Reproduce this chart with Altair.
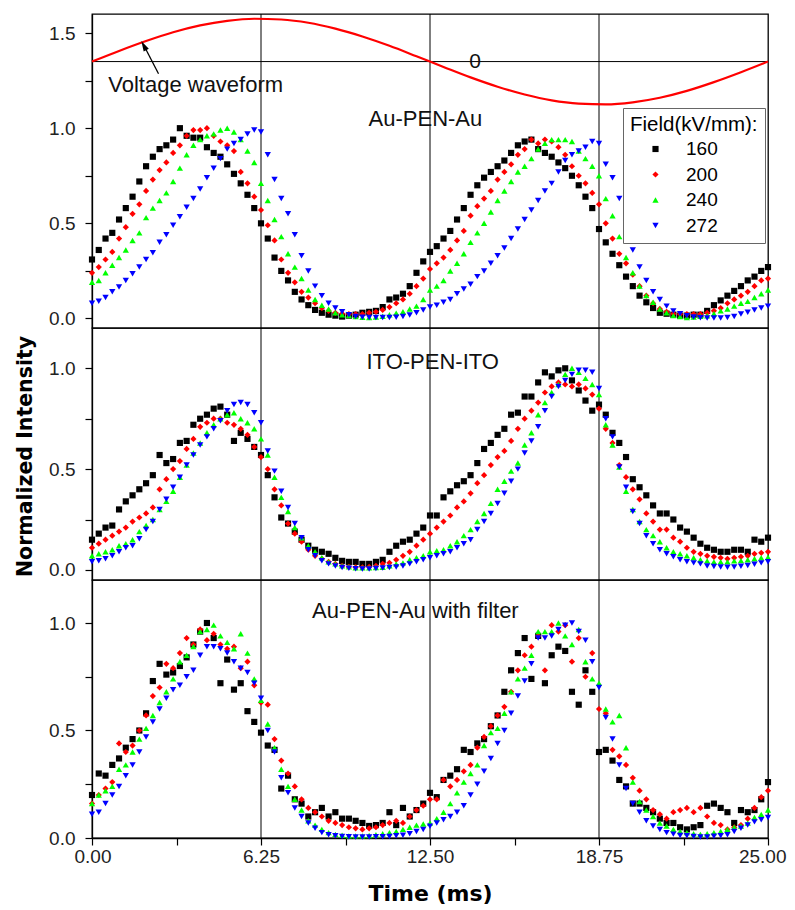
import altair as alt
import pandas as pd

FONT = "Liberation Sans"
TITLE_FONT = "DejaVu Sans"

# ---------------- categories / styles ----------------
fields = ["160", "200", "240", "272"]
field_colors = ["#000000", "#ff0000", "#00ff00", "#0000ff"]
field_shapes = ["square", "diamond", "triangle-up", "triangle-down"]
field_sizes = [38, 40, 72, 72]

time_step_ms = 0.25
time_ms = [round(i * time_step_ms, 2) for i in range(101)]

# ---------------- panel 1: Au-PEN-Au ----------------
au_160 = [
    0.31, 0.36, 0.42, 0.45, 0.52, 0.58, 0.64, 0.72, 0.80, 0.85, 0.89, 0.91,
    0.94, 1.00, 0.96, 0.95, 0.95, 0.90, 0.87, 0.85, 0.81, 0.76, 0.71, 0.65,
    0.58, 0.50, 0.42, 0.32, 0.25, 0.20, 0.14, 0.10, 0.07, 0.045, 0.03, 0.02,
    0.015, 0.01, 0.015, 0.02, 0.03, 0.035, 0.04, 0.06, 0.10, 0.11, 0.13, 0.17,
    0.24, 0.30, 0.35, 0.38, 0.42, 0.46, 0.52, 0.58, 0.65, 0.70, 0.74, 0.77,
    0.80, 0.83, 0.87, 0.91, 0.93, 0.94, 0.89, 0.87, 0.85, 0.82, 0.79, 0.75,
    0.70, 0.64, 0.58, 0.47, 0.40, 0.34, 0.28, 0.22, 0.17, 0.12, 0.085, 0.055,
    0.03, 0.025, 0.02, 0.015, 0.015, 0.02, 0.02, 0.04, 0.07, 0.095, 0.12, 0.145,
    0.17, 0.20, 0.22, 0.25, 0.27]
au_200 = [
    0.24, 0.27, 0.31, 0.35, 0.42, 0.48, 0.55, 0.60, 0.67, 0.73, 0.78, 0.82,
    0.87, 0.91, 0.96, 0.99, 0.99, 1.00, 0.96, 0.93, 0.91, 0.88, 0.77, 0.71,
    0.64, 0.57, 0.49, 0.41, 0.31, 0.24, 0.19, 0.14, 0.11, 0.08, 0.055, 0.04,
    0.03, 0.025, 0.023, 0.023, 0.023, 0.03, 0.035, 0.045, 0.06, 0.08, 0.10, 0.13,
    0.17, 0.21, 0.26, 0.29, 0.32, 0.36, 0.41, 0.46, 0.54, 0.59, 0.63, 0.67,
    0.73, 0.77, 0.81, 0.86, 0.89, 0.94, 0.92, 0.94, 0.93, 0.90, 0.86, 0.80,
    0.75, 0.71, 0.66, 0.60, 0.50, 0.42, 0.34, 0.29, 0.23, 0.17, 0.12, 0.08,
    0.05, 0.035, 0.025, 0.023, 0.023, 0.023, 0.023, 0.03, 0.04, 0.055, 0.08, 0.10,
    0.12, 0.14, 0.17, 0.20, 0.21]
au_240 = [
    0.19, 0.20, 0.24, 0.28, 0.32, 0.36, 0.41, 0.45, 0.53, 0.58, 0.62, 0.66,
    0.72, 0.79, 0.86, 0.91, 0.94, 0.96, 0.97, 0.99, 1.00, 0.98, 0.94, 0.88,
    0.82, 0.71, 0.62, 0.52, 0.43, 0.34, 0.27, 0.21, 0.15, 0.10, 0.07, 0.05,
    0.03, 0.02, 0.015, 0.01, 0.006, 0.005, 0.008, 0.012, 0.02, 0.028, 0.035, 0.05,
    0.065, 0.10, 0.15, 0.17, 0.20, 0.25, 0.29, 0.34, 0.40, 0.45, 0.50, 0.56,
    0.62, 0.67, 0.72, 0.77, 0.80, 0.84, 0.89, 0.92, 0.94, 0.94, 0.94, 0.93,
    0.88, 0.84, 0.80, 0.75, 0.63, 0.54, 0.43, 0.32, 0.24, 0.17, 0.12, 0.085,
    0.05, 0.03, 0.015, 0.01, 0.005, 0.008, 0.012, 0.014, 0.025, 0.04, 0.05, 0.065,
    0.08, 0.09, 0.11, 0.13, 0.15]
au_272 = [
    0.08, 0.09, 0.11, 0.14, 0.165, 0.20, 0.235, 0.27, 0.31, 0.345, 0.40, 0.44,
    0.49, 0.535, 0.585, 0.63, 0.68, 0.74, 0.79, 0.84, 0.89, 0.92, 0.94, 0.97,
    0.99, 0.98, 0.86, 0.73, 0.63, 0.55, 0.44, 0.33, 0.25, 0.17, 0.12, 0.08,
    0.055, 0.035, 0.02, 0.01, 0.006, 0.005, 0.005, 0.005, 0.005, 0.006, 0.01, 0.018,
    0.03, 0.045, 0.06, 0.07, 0.085, 0.10, 0.13, 0.155, 0.18, 0.22, 0.25, 0.29,
    0.33, 0.37, 0.42, 0.47, 0.52, 0.57, 0.62, 0.67, 0.71, 0.77, 0.83, 0.86,
    0.88, 0.90, 0.93, 0.92, 0.81, 0.74, 0.63, 0.50, 0.36, 0.27, 0.20, 0.14,
    0.10, 0.065, 0.04, 0.025, 0.014, 0.008, 0.004, 0.002, 0.002, 0.003, 0.005, 0.01,
    0.023, 0.033, 0.045, 0.055, 0.065]

# ---------------- panel 2: ITO-PEN-ITO ----------------
ito_160 = [
    0.15, 0.18, 0.21, 0.22, 0.30, 0.34, 0.37, 0.40, 0.43, 0.47, 0.57, 0.53,
    0.55, 0.63, 0.64, 0.72, 0.75, 0.77, 0.80, 0.81, 0.77, 0.64, 0.68, 0.65,
    0.61, 0.57, 0.47, 0.36, 0.26, 0.23, 0.19, 0.15, 0.12, 0.10, 0.09, 0.08,
    0.06, 0.045, 0.04, 0.04, 0.03, 0.03, 0.04, 0.05, 0.09, 0.12, 0.14, 0.15,
    0.18, 0.21, 0.27, 0.27, 0.36, 0.39, 0.42, 0.44, 0.47, 0.53, 0.60, 0.63,
    0.67, 0.70, 0.77, 0.78, 0.86, 0.86, 0.93, 0.98, 0.96, 0.99, 1.00, 0.94,
    0.89, 0.84, 0.79, 0.82, 0.77, 0.68, 0.63, 0.56, 0.45, 0.41, 0.37, 0.32,
    0.28, 0.28, 0.25, 0.21, 0.19, 0.16, 0.13, 0.11, 0.10, 0.09, 0.09, 0.10,
    0.10, 0.09, 0.15, 0.14, 0.16]
ito_200 = [
    0.11, 0.13, 0.15, 0.17, 0.19, 0.21, 0.24, 0.26, 0.28, 0.31, 0.40, 0.45,
    0.50, 0.54, 0.60, 0.65, 0.71, 0.73, 0.75, 0.75, 0.73, 0.72, 0.70, 0.67,
    0.61, 0.56, 0.50, 0.40, 0.32, 0.23, 0.18, 0.14, 0.10, 0.07, 0.055, 0.04,
    0.03, 0.02, 0.015, 0.013, 0.013, 0.015, 0.02, 0.03, 0.035, 0.05, 0.07, 0.09,
    0.12, 0.15, 0.18, 0.21, 0.24, 0.27, 0.31, 0.34, 0.38, 0.43, 0.47, 0.52,
    0.56, 0.59, 0.64, 0.70, 0.75, 0.79, 0.83, 0.88, 0.91, 0.93, 0.92, 0.91,
    0.92, 0.90, 0.87, 0.80, 0.70, 0.63, 0.52, 0.46, 0.40, 0.35, 0.28, 0.24,
    0.20, 0.20, 0.16, 0.14, 0.11, 0.09, 0.08, 0.07, 0.065, 0.06, 0.055, 0.06,
    0.065, 0.07, 0.08, 0.085, 0.09]
ito_240 = [
    0.07, 0.08, 0.09, 0.10, 0.12, 0.13, 0.15, 0.19, 0.22, 0.25, 0.30, 0.34,
    0.39, 0.46, 0.52, 0.58, 0.63, 0.68, 0.72, 0.75, 0.77, 0.78, 0.75, 0.73,
    0.70, 0.65, 0.57, 0.46, 0.36, 0.29, 0.21, 0.16, 0.12, 0.09, 0.06, 0.04,
    0.03, 0.02, 0.015, 0.01, 0.01, 0.01, 0.012, 0.013, 0.02, 0.03, 0.035, 0.05,
    0.06, 0.07, 0.09, 0.095, 0.10, 0.12, 0.14, 0.17, 0.20, 0.24, 0.28, 0.33,
    0.40, 0.44, 0.49, 0.53, 0.62, 0.68, 0.77, 0.83, 0.88, 0.92, 0.97, 1.00,
    0.98, 0.95, 0.92, 0.87, 0.72, 0.62, 0.51, 0.39, 0.30, 0.24, 0.20, 0.17,
    0.14, 0.11, 0.09, 0.08, 0.07, 0.06, 0.05, 0.045, 0.04, 0.04, 0.04, 0.045,
    0.046, 0.05, 0.055, 0.06, 0.063]
ito_272 = [
    0.04, 0.045, 0.055, 0.07, 0.09, 0.11, 0.12, 0.155, 0.20, 0.24, 0.30, 0.35,
    0.41, 0.46, 0.52, 0.57, 0.62, 0.66, 0.70, 0.74, 0.79, 0.82, 0.83, 0.82,
    0.78, 0.73, 0.59, 0.49, 0.39, 0.31, 0.23, 0.16, 0.10, 0.07, 0.045, 0.03,
    0.02, 0.012, 0.008, 0.006, 0.005, 0.005, 0.007, 0.01, 0.012, 0.015, 0.02, 0.03,
    0.04, 0.05, 0.06, 0.07, 0.08, 0.09, 0.11, 0.13, 0.15, 0.20, 0.24, 0.28,
    0.33, 0.38, 0.44, 0.50, 0.58, 0.64, 0.71, 0.79, 0.86, 0.91, 0.94, 0.97,
    0.99, 0.99, 0.98, 0.90, 0.75, 0.66, 0.51, 0.41, 0.29, 0.23, 0.17, 0.13,
    0.10, 0.08, 0.065, 0.05, 0.04, 0.035, 0.03, 0.02, 0.017, 0.015, 0.013, 0.015,
    0.018, 0.022, 0.028, 0.035, 0.04]

# ---------------- panel 3: Au-PEN-Au with filter ----------------
flt_160 = [
    0.20, 0.30, 0.29, 0.34, 0.37, 0.42, 0.46, 0.50, 0.58, 0.73, 0.81, 0.76,
    0.77, 0.80, 0.84, 0.90, 0.96, 1.00, 0.93, 0.72, 0.83, 0.69, 0.72, 0.59,
    0.54, 0.49, 0.43, 0.41, 0.23, 0.29, 0.18, 0.16, 0.10, 0.12, 0.14, 0.10,
    0.12, 0.09, 0.09, 0.08, 0.07, 0.056, 0.06, 0.07, 0.12, 0.06, 0.14, 0.10,
    0.13, 0.16, 0.21, 0.19, 0.27, 0.29, 0.32, 0.41, 0.40, 0.44, 0.46, 0.52,
    0.57, 0.68, 0.78, 0.86, 0.93, 0.74, 0.94, 0.72, 0.85, 0.89, 0.87, 0.68,
    0.62, 0.78, 0.68, 0.40, 0.41, 0.36, 0.27, 0.24, 0.16, 0.16, 0.14, 0.12,
    0.09, 0.07, 0.07, 0.05, 0.04, 0.05, 0.06, 0.15, 0.16, 0.14, 0.12, 0.07,
    0.13, 0.12, 0.13, 0.18, 0.26]
flt_200 = [
    0.16, 0.20, 0.23, 0.26, 0.44, 0.40, 0.43, 0.50, 0.57, 0.66, 0.70, 0.81,
    0.79, 0.86, 0.93, 0.90, 0.97, 0.92, 0.95, 0.90, 0.88, 0.89, 0.79, 0.82,
    0.71, 0.63, 0.62, 0.46, 0.36, 0.30, 0.24, 0.18, 0.14, 0.12, 0.10, 0.08,
    0.07, 0.06, 0.05, 0.045, 0.04, 0.045, 0.05, 0.06, 0.07, 0.08, 0.07, 0.10,
    0.13, 0.15, 0.18, 0.18, 0.27, 0.24, 0.27, 0.31, 0.34, 0.42, 0.47, 0.52,
    0.57, 0.61, 0.68, 0.78, 0.85, 0.89, 0.94, 0.78, 0.99, 0.96, 0.99, 0.82,
    0.93, 0.75, 0.86, 0.60, 0.58, 0.41, 0.38, 0.34, 0.28, 0.22, 0.18, 0.13,
    0.11, 0.09, 0.12, 0.13, 0.14, 0.12, 0.14, 0.10, 0.07, 0.06, 0.04, 0.05,
    0.06, 0.09, 0.14, 0.19, 0.22]
flt_240 = [
    0.16, 0.20, 0.22, 0.24, 0.32, 0.34, 0.40, 0.46, 0.51, 0.57, 0.63, 0.68,
    0.74, 0.82, 0.85, 0.89, 0.96, 0.97, 0.99, 0.94, 0.91, 0.88, 0.95, 0.86,
    0.74, 0.64, 0.53, 0.42, 0.32, 0.24, 0.18, 0.13, 0.08, 0.06, 0.04, 0.025,
    0.017, 0.013, 0.01, 0.01, 0.01, 0.012, 0.015, 0.02, 0.025, 0.03, 0.04, 0.05,
    0.06, 0.065, 0.07, 0.09, 0.12, 0.16, 0.21, 0.26, 0.30, 0.34, 0.43, 0.49,
    0.51, 0.58, 0.68, 0.74, 0.79, 0.85, 0.96, 0.96, 0.96, 1.00, 0.94, 0.90,
    0.97, 0.82, 0.74, 0.72, 0.60, 0.54, 0.57, 0.42, 0.26, 0.17, 0.13, 0.10,
    0.07, 0.056, 0.04, 0.03, 0.025, 0.02, 0.017, 0.02, 0.025, 0.03, 0.04, 0.05,
    0.056, 0.07, 0.095, 0.11, 0.13]
flt_272 = [
    0.11, 0.12, 0.16, 0.20, 0.24, 0.29, 0.34, 0.40, 0.47, 0.54, 0.60, 0.65,
    0.69, 0.71, 0.75, 0.78, 0.85, 0.89, 0.89, 0.88, 0.86, 0.82, 0.79, 0.77,
    0.72, 0.65, 0.50, 0.40, 0.28, 0.21, 0.14, 0.10, 0.07, 0.045, 0.025, 0.015,
    0.01, 0.007, 0.006, 0.005, 0.005, 0.005, 0.006, 0.006, 0.007, 0.01, 0.013, 0.02,
    0.03, 0.04, 0.055, 0.07, 0.085, 0.10, 0.12, 0.15, 0.20, 0.25, 0.31, 0.37,
    0.44, 0.50, 0.58, 0.66, 0.73, 0.81, 0.93, 0.93, 0.94, 0.97, 0.99, 1.00,
    0.96, 0.92, 0.82, 0.70, 0.56, 0.46, 0.34, 0.23, 0.16, 0.12, 0.08, 0.056,
    0.04, 0.025, 0.018, 0.012, 0.01, 0.007, 0.005, 0.005, 0.008, 0.01, 0.015, 0.03,
    0.045, 0.06, 0.075, 0.085, 0.095]

# ---------------- voltage waveform (top panel) ----------------
volt_t = list(range(26))
volt_v = [1.350, 1.406, 1.458, 1.504, 1.540, 1.564, 1.575, 1.571, 1.554, 1.523,
          1.482, 1.433, 1.378, 1.322, 1.267, 1.218, 1.177, 1.146, 1.129, 1.125,
          1.136, 1.160, 1.196, 1.242, 1.294, 1.350]
zero_level = [1.35]
grid_times = [6.25, 12.5, 18.75]

# annotations (data coordinates)
panel_titles = ["Au-PEN-Au", "ITO-PEN-ITO", "Au-PEN-Au with filter"]
panel_title_t = [12.33, 12.6, 11.96]
panel_title_y = [1.049, 1.033, 1.057]
volt_label = ["Voltage waveform"]
volt_label_t = [0.6]
volt_label_y = [1.226]
zero_label = ["0"]
zero_label_t = [14.17]
arrow_t = [2.46, 1.90]
arrow_y = [1.286, 1.44]
arrow_head_t = [1.915]
arrow_head_y = [1.434]

x_ticks = [0, 3.125, 6.25, 9.375, 12.5, 15.625, 18.75, 21.875, 25]


def long_df(series):
    rows = []
    for f, vals in zip(fields, series):
        for t, v in zip(time_ms, vals):
            rows.append({"time": t, "intensity": v, "field": f})
    return pd.DataFrame(rows)


def y_axis(ticks, title, title_y=None):
    kw = dict(
        values=ticks,
        labelExpr="datum.value % 0.5 == 0 ? format(datum.value, '.1f') : ''",
        title=title, grid=False, tickSize=7, tickColor="black", tickWidth=1.2,
        domainColor="black", domainWidth=1.3, labelFlush=False,
        labelFont=FONT, labelFontSize=19, labelColor="#222", labelPadding=10,
        titleFont=TITLE_FONT, titleFontSize=20.5, titleFontWeight="bold",
        titleColor="black", titlePadding=13)
    if title_y is not None:
        kw["titleY"] = title_y
    return alt.Axis(**kw)


def x_axis_bottom():
    return alt.Axis(
        values=x_ticks,
        labelExpr="datum.value % 6.25 == 0 ? format(datum.value, '.2f') : ''",
        title="Time (ms)", grid=False, tickSize=7, tickColor="black", tickWidth=1.2,
        domainColor="black", domainWidth=1.3, labelFlush=True, labelFlushOffset=18,
        labelFont=FONT, labelFontSize=19, labelColor="#222", labelPadding=2,
        titleFont=TITLE_FONT, titleFontSize=22, titleFontWeight="bold",
        titleColor="black", titlePadding=17)


def build_panel(series, height, y_domain, y_ticks, y_title, x_axis, legend,
                title_idx, extra=None, title_y=None):
    xs = alt.Scale(domain=[0, 25], nice=False, zero=False)
    ys = alt.Scale(domain=y_domain, nice=False, zero=False)
    yax = y_axis(y_ticks, y_title, title_y)

    def X(f):
        return alt.X(f, scale=xs, axis=x_axis)

    def Y(f):
        return alt.Y(f, scale=ys, axis=yax)

    grid = alt.Chart(pd.DataFrame({"t": grid_times})).mark_rule(
        color="black", strokeWidth=1).encode(x=X("t:Q"))

    pts = alt.Chart(long_df(series)).mark_point(
        filled=True, opacity=1, strokeWidth=0).encode(
        x=X("time:Q"), y=Y("intensity:Q"),
        color=alt.Color("field:N", scale=alt.Scale(domain=fields, range=field_colors),
                        legend=legend),
        shape=alt.Shape("field:N", scale=alt.Scale(domain=fields, range=field_shapes),
                        legend=legend),
        size=alt.Size("field:N", scale=alt.Scale(domain=fields, range=field_sizes),
                      legend=legend),
    )

    title_df = pd.DataFrame({"t": [panel_title_t[title_idx]],
                             "y": [panel_title_y[title_idx]],
                             "label": [panel_titles[title_idx]]})
    ttl = alt.Chart(title_df).mark_text(
        font=FONT, fontSize=22, color="#111", align="center", baseline="middle").encode(
        x=X("t:Q"), y=Y("y:Q"), text="label:N")

    layers = [grid]
    if extra is not None:
        layers += extra(X, Y)
    layers += [pts, ttl]
    return alt.layer(*layers).properties(width=676, height=height)


def top_extra(X, Y):
    zero_rule = alt.Chart(pd.DataFrame({"y": zero_level})).mark_rule(
        color="black", strokeWidth=1).encode(y=Y("y:Q"))
    volt = alt.Chart(pd.DataFrame({"t": volt_t, "v": volt_v})).mark_line(
        color="#ff0000", strokeWidth=2.2, interpolate="monotone").encode(
        x=X("t:Q"), y=Y("v:Q"))
    vlab = alt.Chart(pd.DataFrame({"t": volt_label_t, "y": volt_label_y,
                                   "label": volt_label})).mark_text(
        font=FONT, fontSize=22, color="#111", align="left", baseline="middle").encode(
        x=X("t:Q"), y=Y("y:Q"), text="label:N")
    zlab = alt.Chart(pd.DataFrame({"t": zero_label_t, "y": zero_level,
                                   "label": zero_label})).mark_text(
        font=FONT, fontSize=21, color="#111", align="center", baseline="middle").encode(
        x=X("t:Q"), y=Y("y:Q"), text="label:N")
    shaft = alt.Chart(pd.DataFrame({"t": arrow_t, "y": arrow_y})).mark_line(
        color="black", strokeWidth=1.3).encode(x=X("t:Q"), y=Y("y:Q"))
    head = alt.Chart(pd.DataFrame({"t": arrow_head_t, "y": arrow_head_y})).mark_point(
        shape="M0,-1L0.55,1L-0.55,1Z", filled=True, opacity=1, color="black",
        strokeWidth=0, size=110, angle=332).encode(x=X("t:Q"), y=Y("y:Q"))
    return [zero_rule, volt, shaft, head, vlab, zlab]


legend_top = alt.Legend(
    title="Field(kV/mm):", orient="none", legendX=531, legendY=94,
    fillColor="white", strokeColor="#666", padding=7, cornerRadius=0,
    titleFont=FONT, titleFontSize=20.5, titleFontWeight="normal", titleColor="black",
    titlePadding=4, labelFont=FONT, labelFontSize=19, labelColor="black",
    symbolStrokeWidth=0, symbolOffset=16, labelOffset=21, rowPadding=5.5)

top = build_panel([au_160, au_200, au_240, au_272], 314, [-0.05, 1.6],
                  [0, 0.25, 0.5, 0.75, 1.0, 1.25, 1.5], None, None, legend_top, 0,
                  extra=top_extra)
mid = build_panel([ito_160, ito_200, ito_240, ito_272], 252, [-0.05, 1.2],
                  [0, 0.25, 0.5, 0.75, 1.0], "Normalized Intensity", None, None, 1,
                  title_y=128)
bot = build_panel([flt_160, flt_200, flt_240, flt_272], 258, [0, 1.2],
                  [0, 0.25, 0.5, 0.75, 1.0], None, x_axis_bottom(), None, 2)

chart = alt.vconcat(top, mid, bot, spacing=0, bounds="flush").resolve_scale(
    y="independent", color="independent", shape="independent", size="independent"
).resolve_legend(
    color="independent", shape="independent", size="independent"
).properties(
    padding={"left": 6, "top": 4, "right": 0, "bottom": 0}, background="white"
).configure(font=FONT).configure_view(stroke="black", strokeWidth=1.3)

chart.save("out.html", embed_options={"renderer": "svg", "actions": False})
